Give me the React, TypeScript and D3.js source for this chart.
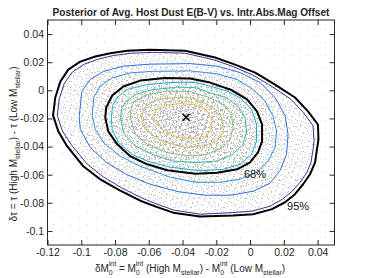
import { useEffect, useRef } from "react";
import * as d3 from "d3";

type Pt = [number, number];

// axis ticks
const xTicks = [-0.12, -0.1, -0.08, -0.06, -0.04, -0.02, 0, 0.02, 0.04];
const yTicks = [-0.1, -0.08, -0.06, -0.04, -0.02, 0, 0.02, 0.04];

// 95% credible contour (thick black)
const contour95: Pt[] = [
  [-0.1167, -0.0178], [-0.1154, -0.0051], [-0.1124, 0.0062], [-0.1077, 0.0147],
  [-0.1006, 0.0204], [-0.0917, 0.024], [-0.0828, 0.0264], [-0.0728, 0.0282],
  [-0.0592, 0.0289], [-0.0385, 0.0282], [-0.0207, 0.0233], [-0.0089, 0.0183],
  [0.003, 0.0126], [0.0148, 0.0041], [0.0266, -0.0051], [0.0343, -0.015],
  [0.0402, -0.0243], [0.0405, -0.0349], [0.0396, -0.042], [0.0385, -0.0512],
  [0.0355, -0.0597], [0.0314, -0.0668], [0.0266, -0.0739], [0.0207, -0.0796],
  [0.013, -0.0845], [0.0018, -0.0881], [-0.0101, -0.0891], [-0.0296, -0.0898],
  [-0.0456, -0.087], [-0.055, -0.0831], [-0.0651, -0.0785], [-0.0769, -0.0714],
  [-0.0888, -0.0633], [-0.0988, -0.054], [-0.1083, -0.0399], [-0.1136, -0.0292],
];

// 68% credible contour (thick black)
const contour68: Pt[] = [
  [-0.0858, -0.0193], [-0.0852, -0.0122], [-0.0817, -0.0037], [-0.0751, 0.0027],
  [-0.0651, 0.0069], [-0.0503, 0.0087], [-0.0355, 0.0084], [-0.0237, 0.0055],
  [-0.0118, 0.0006], [-0.0018, -0.0065], [0.0041, -0.015], [0.0071, -0.0243],
  [0.0071, -0.0363], [0.0047, -0.0441], [0.0, -0.0512], [-0.0077, -0.0562],
  [-0.0195, -0.0586], [-0.0325, -0.0593], [-0.0491, -0.0569], [-0.0609, -0.0526],
  [-0.071, -0.0469], [-0.0787, -0.0384], [-0.084, -0.0292],
];

// density level contours, outermost to innermost
const level1: Pt[] = [
  [-0.1142, -0.0179], [-0.113, -0.0058], [-0.1101, 0.0048], [-0.1053, 0.013],
  [-0.0982, 0.0186], [-0.0899, 0.0222], [-0.0811, 0.0247], [-0.071, 0.0263],
  [-0.058, 0.027], [-0.0385, 0.0264], [-0.0219, 0.0218], [-0.0101, 0.0169],
  [0.0018, 0.0108], [0.013, 0.0027], [0.0243, -0.0065], [0.0314, -0.0157],
  [0.0373, -0.025], [0.0379, -0.0356], [0.0373, -0.042], [0.0361, -0.0512],
  [0.0334, -0.059], [0.0296, -0.0654], [0.0249, -0.0718], [0.0192, -0.0774],
  [0.0118, -0.0824], [0.0012, -0.0859], [-0.0107, -0.087], [-0.0296, -0.0881],
  [-0.045, -0.0852], [-0.0544, -0.0813], [-0.0639, -0.0767], [-0.0757, -0.0696],
  [-0.087, -0.0615], [-0.0964, -0.0526], [-0.1059, -0.0388], [-0.1112, -0.0289],
];
const level2: Pt[] = [
  [-0.1012, -0.0186], [-0.0997, -0.0009], [-0.0947, 0.0077], [-0.087, 0.0133],
  [-0.0751, 0.0172], [-0.0592, 0.0186], [-0.0355, 0.019], [-0.0195, 0.0172],
  [-0.0059, 0.0126], [0.0059, 0.0055], [0.0148, -0.0051], [0.0207, -0.0179],
  [0.0225, -0.0313], [0.0216, -0.0455], [0.0178, -0.0569], [0.0118, -0.0661],
  [0.0018, -0.0718], [-0.0118, -0.0746], [-0.0266, -0.0746], [-0.0426, -0.0721],
  [-0.0592, -0.0668], [-0.0734, -0.0597], [-0.0852, -0.0512], [-0.0947, -0.0406],
  [-0.1006, -0.0278],
];
const level3: Pt[] = [
  [-0.0935, -0.0179], [-0.0926, -0.0051], [-0.0888, 0.003], [-0.0817, 0.0089],
  [-0.071, 0.0124], [-0.0574, 0.0135], [-0.0355, 0.0138], [-0.0195, 0.0117],
  [-0.0077, 0.0077], [0.0018, 0.0006], [0.0089, -0.0077], [0.0136, -0.0184],
  [0.0157, -0.029], [0.0148, -0.0406], [0.0107, -0.0503], [0.0041, -0.0583],
  [-0.0059, -0.0632], [-0.0178, -0.0654], [-0.032, -0.0654], [-0.0473, -0.0618],
  [-0.0651, -0.054], [-0.0769, -0.0469], [-0.0867, -0.0374], [-0.0917, -0.0278],
];
const level4: Pt[] = [
  [-0.0822, -0.0193], [-0.0814, -0.0108], [-0.0787, -0.0051], [-0.0728, 0.0006],
  [-0.0609, 0.0041], [-0.0456, 0.0057], [-0.0325, 0.0057], [-0.0237, 0.003],
  [-0.0136, -0.0006], [-0.0059, -0.0053], [0.0009, -0.0136], [0.0038, -0.0243],
  [0.0038, -0.0361], [0.0009, -0.0455], [-0.0059, -0.0526], [-0.016, -0.0562],
  [-0.0296, -0.0572], [-0.0473, -0.0547], [-0.0604, -0.0505], [-0.0701, -0.0455],
  [-0.0778, -0.0372], [-0.0817, -0.0285],
];
const level5: Pt[] = [
  [-0.0769, -0.0193], [-0.0757, -0.0122], [-0.074, -0.0086], [-0.068, -0.003],
  [-0.0574, 0.0006], [-0.0432, 0.0022], [-0.0325, 0.002], [-0.0237, -0.0018],
  [-0.0139, -0.0053], [-0.0071, -0.0113], [-0.003, -0.0195], [-0.0021, -0.029],
  [-0.0041, -0.0384], [-0.0101, -0.0455], [-0.0195, -0.0503], [-0.032, -0.0514],
  [-0.0456, -0.0503], [-0.058, -0.0455], [-0.068, -0.0396], [-0.0746, -0.0313],
];
const level6: Pt[] = [
  [-0.071, -0.0193], [-0.0704, -0.0122], [-0.0686, -0.0076], [-0.0609, -0.003],
  [-0.0491, -0.0006], [-0.0355, -0.0009], [-0.0237, -0.0053], [-0.016, -0.0101],
  [-0.0109, -0.0172], [-0.0101, -0.0266], [-0.0118, -0.0349], [-0.0166, -0.0408],
  [-0.0254, -0.0455], [-0.0355, -0.0467], [-0.0491, -0.0443], [-0.0609, -0.0384],
  [-0.068, -0.0313],
];
const level7: Pt[] = [
  [-0.0645, -0.0193], [-0.0621, -0.0115], [-0.055, -0.0065], [-0.0432, -0.0049],
  [-0.0343, -0.0055], [-0.0254, -0.0101], [-0.0189, -0.0148], [-0.016, -0.0219],
  [-0.016, -0.0301], [-0.0198, -0.0361], [-0.0278, -0.0396], [-0.0385, -0.0406],
  [-0.0521, -0.0363], [-0.0609, -0.0292],
];
const level8: Pt[] = [
  [-0.058, -0.0193], [-0.0556, -0.0136], [-0.0497, -0.0104], [-0.0414, -0.0094],
  [-0.032, -0.0104], [-0.026, -0.0136], [-0.0228, -0.0207], [-0.0228, -0.0278],
  [-0.026, -0.0324], [-0.0325, -0.0344], [-0.0426, -0.0335], [-0.0515, -0.0285],
];

const levels = [level1, level2, level3, level4, level5, level6, level7, level8];
const levelColors = ["#3b3492", "#2a6ee0", "#2f8de6", "#14b0d0", "#38bba6", "#84c27a", "#cbbf5e", "#f6c53e"];

// posterior mean marker
const meanPoint: Pt = [-0.0379, -0.0191];

// contour labels
const labelText = ["68%", "95%"];
const labelPos: Pt[] = [[-0.0036, -0.0626], [0.0219, -0.0852]];

const W = 370;
const H = 278;
const L = 47.5, R = 334.5, T = 20, B = 245;
const font = "'Liberation Sans', Arial, Helvetica, sans-serif";
const ink = "#262626";

const fmt = (v: number) => String(+v.toFixed(2));

// speckle texture suggesting the sample cloud (styling only)
const dotTile: [number, number][] = [
  [1, 2], [9, 0], [5, 6], [12, 4], [3, 11], [10, 9], [7, 14], [15, 12], [0, 7], [13, 16], [6, 3], [16, 7],
];
const tileW = [16, 17, 15, 18, 19, 16, 17, 15, 18, 19];
const tileH = [15, 18, 17, 16, 15, 19, 16, 18, 17, 15];

export default function App() {
  const axRef = useRef<SVGGElement | null>(null);

  const x = d3.scaleLinear().domain([-0.12, 0.05]).range([L, R]);
  const y = d3.scaleLinear().domain([-0.11, 0.05]).range([B, T]);

  const line = d3
    .line<Pt>()
    .x((d) => x(d[0]))
    .y((d) => y(d[1]))
    .curve(d3.curveLinearClosed);

  useEffect(() => {
    if (!axRef.current) return;
    const g = d3.select(axRef.current);
    g.selectAll("*").remove();

    const style = (sel: d3.Selection<SVGGElement, unknown, null, undefined>) => {
      sel.select(".domain").remove();
      sel.selectAll("line").attr("stroke", ink);
      sel.selectAll("text").attr("font-size", 10.5).attr("font-family", font).attr("fill", ink);
    };

    g.append("g")
      .attr("transform", `translate(0,${B})`)
      .call(d3.axisBottom(x).tickValues(xTicks).tickSize(-5).tickPadding(4).tickFormat((d) => fmt(+d)))
      .call(style);
    g.append("g")
      .attr("transform", `translate(0,${T})`)
      .call(d3.axisTop(x).tickValues(xTicks).tickSize(-5).tickFormat(() => ""))
      .call(style);
    g.append("g")
      .attr("transform", `translate(${L},0)`)
      .call(d3.axisLeft(y).tickValues(yTicks).tickSize(-5).tickPadding(3.5).tickFormat((d) => fmt(+d)))
      .call(style);
    g.append("g")
      .attr("transform", `translate(${R},0)`)
      .call(d3.axisRight(y).tickValues(yTicks).tickSize(-5).tickFormat(() => ""))
      .call(style);
  }, []);

  const allShapes = [contour95, ...levels.slice(0, 3), contour68, ...levels.slice(3)];

  return (
    <svg width={W} height={H} style={{ position: "absolute", left: 0, top: 0, background: "#fff" }}>
      <defs>
        <clipPath id="plotClip">
          <rect x={L} y={T} width={R - L} height={B - T} />
        </clipPath>
        {allShapes.map((_, i) => (
          <pattern
            key={"p" + i}
            id={"speck" + i}
            width={tileW[i]}
            height={tileH[i]}
            patternUnits="userSpaceOnUse"
            patternTransform={`translate(${(i * 7) % 13},${(i * 11) % 13})`}
          >
            {dotTile.map(([a, b], k) => (
              <rect
                key={k}
                x={a % tileW[i]}
                y={b % tileH[i]}
                width={1}
                height={1}
                fill={i < 4 ? "#c2c2c2" : "#b0b0b0"}
              />
            ))}
          </pattern>
        ))}
        <pattern id="sparse" width={17} height={13} patternUnits="userSpaceOnUse">
          <rect x={2} y={3} width={1} height={1} fill="#d0d0d0" />
          <rect x={11} y={9} width={1} height={1} fill="#d8d8d8" />
        </pattern>
      </defs>
      <text x={(L + R) / 2} y={16} textAnchor="middle" fontFamily={font} fontWeight="bold" fontSize={10.1} fill={ink}>
        Posterior of Avg. Host Dust E(B-V) vs. Intr.Abs.Mag Offset
      </text>

      <g clipPath="url(#plotClip)">
        {/* sample cloud */}
        <rect x={L} y={T} width={R - L} height={B - T} fill="url(#sparse)" />
        {allShapes.map((c, i) => (
          <path key={"f" + i} d={line(c) ?? ""} fill={`url(#speck${i})`} stroke="none" />
        ))}
        {levels.map((c, i) => (
          <path key={"l" + i} d={line(c) ?? ""} fill="none" stroke={levelColors[i]} strokeWidth={1} strokeLinejoin="round" />
        ))}
        <path d={line(contour95) ?? ""} fill="none" stroke="#000" strokeWidth={2} strokeLinejoin="round" />
        <path d={line(contour68) ?? ""} fill="none" stroke="#000" strokeWidth={2} strokeLinejoin="round" />
        <g transform={`translate(${x(meanPoint[0])},${y(meanPoint[1])})`} stroke="#000" strokeWidth={1.5}>
          <line x1={-3.5} y1={-3.5} x2={3.5} y2={3.5} />
          <line x1={-3.5} y1={3.5} x2={3.5} y2={-3.5} />
        </g>
        {labelText.map((t, i) => (
          <text key={t} x={x(labelPos[i][0])} y={y(labelPos[i][1])} fontFamily={font} fontSize={11} fill="#111">
            {t}
          </text>
        ))}
      </g>

      <rect x={L} y={T} width={R - L} height={B - T} fill="none" stroke={ink} strokeWidth={1} />
      <g ref={axRef} />

      {/* x label */}
      <text x={190} y={272} textAnchor="middle" fontFamily={font} fontSize={10} fill={ink}>
        <tspan>δM</tspan>
        <tspan fontSize={7} dy={3}>0</tspan>
        <tspan fontSize={7} dx={-4} dy={-9}>int</tspan>
        <tspan dy={6}> = M</tspan>
        <tspan fontSize={7} dy={3}>0</tspan>
        <tspan fontSize={7} dx={-4} dy={-9}>int</tspan>
        <tspan dy={6}> (High M</tspan>
        <tspan fontSize={7} dy={3}>stellar</tspan>
        <tspan dy={-3}>) - M</tspan>
        <tspan fontSize={7} dy={3}>0</tspan>
        <tspan fontSize={7} dx={-4} dy={-9}>int</tspan>
        <tspan dy={6}> (Low M</tspan>
        <tspan fontSize={7} dy={3}>stellar</tspan>
        <tspan dy={-3}>)</tspan>
      </text>

      {/* y label */}
      <text transform="translate(17,144) rotate(-90)" textAnchor="middle" fontFamily={font} fontSize={10} fill={ink}>
        <tspan>δτ = τ (High M</tspan>
        <tspan fontSize={7} dy={3}>stellar</tspan>
        <tspan dy={-3}>) - τ (Low M</tspan>
        <tspan fontSize={7} dy={3}>stellar</tspan>
        <tspan dy={-3}>)</tspan>
      </text>
    </svg>
  );
}
